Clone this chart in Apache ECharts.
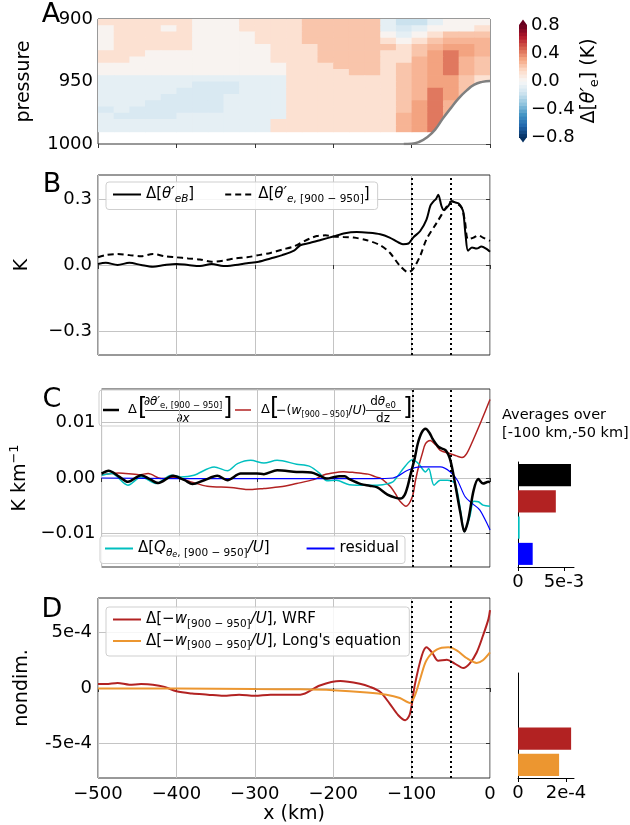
<!DOCTYPE html>
<html>
<head>
<meta charset="utf-8">
<script src="https://cdn.jsdelivr.net/npm/echarts@6.0.0/dist/echarts.min.js"></script>
<style>html,body{margin:0;padding:0;background:#fff;}#chart{width:630px;height:825px;}</style>
</head>
<body>
<div id="chart"></div>
<script>
// ================= DATA =================
// Panel A: cell centres (km / hPa) and field values (K)
const aX = [-490,-470,-450,-430,-410,-390,-370,-350,-330,-310,-290,-270,-250,-230,-210,-190,-170,-150,-130,-110,-90,-70,-50,-30,-10];
const aP = [902.5,907.5,912.5,917.5,922.5,927.5,932.5,937.5,942.5,947.5,952.5,957.5,962.5,967.5,972.5,977.5,982.5,987.5];
const aRows = [
 [.1,.1,.1,.1,.1,.1,.025,.025,.025,.1,.1,.1,.1,.2,.2,.2,.2,.2,-.06,-.2,-.2,-.06,.025,.025,.025],
 [.025,.1,.1,.1,.025,.1,.025,.025,.025,.1,.1,.1,.1,.2,.2,.2,.2,.2,-.06,-.13,-.06,.025,.025,.025,.1],
 [.025,.1,.1,.1,.1,.1,.025,.025,.025,.025,.1,.1,.1,.2,.2,.2,.2,.2,.025,-.06,.025,.1,.2,.2,.2],
 [.025,.1,.1,.1,.1,.1,.025,.025,.025,.025,.1,.1,.1,.2,.2,.2,.2,.2,.1,.025,.1,.2,.275,.275,.275],
 [.025,.1,.1,.1,.1,.1,.025,.025,.025,.025,.025,.1,.1,.1,.2,.2,.2,.2,.2,.1,.2,.275,.325,.325,.275],
 [.1,.1,.1,.025,.025,.025,.025,.025,.025,.025,.025,.1,.1,.1,.2,.2,.2,.2,.1,.1,.2,.325,.425,.325,.275],
 [.1,.1,.025,.025,.025,.025,.025,.025,.025,.025,.025,.1,.1,.1,.2,.2,.2,.2,.1,.1,.275,.325,.425,.275,.2],
 [.025,.025,.025,.025,.025,.025,.025,.025,.025,.025,.025,.025,.1,.1,.1,.2,.2,.2,.1,.2,.275,.325,.425,.275,.2],
 [.025,.025,.025,.025,.025,.025,.025,.025,.025,.025,.025,.025,.1,.1,.1,.1,.2,.2,.1,.2,.275,.325,.425,.275,.2],
 [-.06,-.06,-.06,-.06,-.06,-.06,-.06,-.06,-.06,-.06,-.06,-.06,.1,.1,.1,.1,.1,.1,.1,.2,.275,.325,.325,.2,.1],
 [-.06,-.06,-.06,-.06,-.06,-.06,-.13,-.13,-.13,-.06,-.06,-.06,.1,.1,.1,.1,.1,.1,.1,.2,.275,.325,.325,.2,.1],
 [-.06,-.06,-.06,-.06,-.06,-.13,-.13,-.13,-.13,-.06,-.06,-.06,.1,.1,.1,.1,.1,.1,.1,.2,.275,.425,.325,.2,.1],
 [-.06,-.06,-.06,-.06,-.13,-.13,-.13,-.13,-.06,-.06,-.06,-.06,.1,.1,.1,.1,.1,.1,.1,.2,.275,.425,.325,.2,.1],
 [-.06,-.06,-.06,-.13,-.13,-.13,-.13,-.13,-.06,-.06,-.06,-.06,.1,.1,.1,.1,.1,.1,.1,.2,.325,.425,.275,.2,.1],
 [-.13,-.06,-.13,-.13,-.13,-.13,-.13,-.13,-.06,-.06,-.06,-.06,.1,.1,.1,.1,.1,.1,.1,.2,.325,.425,.275,.2,.1],
 [-.06,-.13,-.13,-.13,-.13,-.06,-.06,-.06,-.06,-.06,-.06,-.06,.1,.1,.1,.1,.1,.1,.1,.275,.325,.425,.275,.2,.1],
 [-.06,-.06,-.06,-.06,-.06,-.06,-.06,-.06,-.06,-.06,-.06,.1,.1,.1,.1,.1,.1,.1,.1,.275,.325,.425,.275,.2,.1],
 [-.06,-.06,-.06,-.06,-.06,-.06,-.06,-.06,-.06,-.06,-.06,.1,.1,.1,.1,.1,.1,.1,.1,.275,.325,.425,.275,.2,.1]
];
const topoX = [-110,-100,-90,-80,-70,-60,-50,-40,-30,-20,-10,0];
const topoP = [1000,999.8,998.2,994.5,988.5,979.5,971.3,963.5,957.3,952.5,950.3,949.6];
const cbarLevels = [-0.8,-0.75,-0.7,-0.65,-0.6,-0.55,-0.5,-0.45,-0.4,-0.35,-0.3,-0.25,-0.2,-0.15,-0.1,-0.05,0,
                    0.05,0.1,0.15,0.2,0.25,0.3,0.35,0.4,0.45,0.5,0.55,0.6,0.65,0.7,0.75,0.8];

// Panel B (K)
const bSolidX = [-500,-490,-475,-460,-445,-430,-415,-400,-385,-370,-355,-340,-325,-310,-295,-280,-265,-250,-242,-230,-215,-200,-185,-170,-155,-140,-128,-118,-111,-104,-98,-89,-81,-76,-72,-69,-66,-62,-59,-53,-49,-44,-40,-36,-34,-31,-28,-23,-17,-11,-4,0];
const bSolidY = [0.005,0.01,0.0,0.01,0.0,-0.008,0.0,0.005,0.0,-0.005,0.005,-0.005,0.0,0.008,0.015,0.03,0.045,0.065,0.09,0.10,0.115,0.13,0.145,0.15,0.147,0.14,0.125,0.105,0.095,0.098,0.125,0.155,0.207,0.27,0.29,0.30,0.32,0.27,0.25,0.27,0.29,0.285,0.28,0.26,0.24,0.13,0.065,0.08,0.075,0.084,0.072,0.06];
const bDashX = [-500,-490,-475,-460,-445,-430,-415,-400,-385,-370,-355,-340,-325,-310,-295,-280,-265,-250,-242,-230,-221,-210,-200,-187,-174,-157,-140,-128,-115,-104,-98,-89,-81,-68,-55,-49,-42,-36,-32,-28,-21,-15,-9,0];
const bDashY = [0.035,0.045,0.05,0.045,0.04,0.05,0.04,0.035,0.03,0.025,0.015,0.02,0.03,0.035,0.045,0.055,0.07,0.085,0.099,0.12,0.132,0.135,0.13,0.128,0.125,0.113,0.09,0.057,-0.003,-0.033,-0.018,0.042,0.117,0.192,0.267,0.29,0.28,0.26,0.2,0.117,0.125,0.135,0.125,0.11];

// Panel C (K km^-1, listed in units of 1e-3)
const cBlackX = [-500,-491,-478,-466,-449,-438,-427,-408,-393,-383,-368,-351,-338,-321,-300,-291,-274,-249,-230,-219,-210,-200,-194,-187,-181,-166,-155,-145,-132,-121,-115,-110,-106,-102,-97,-93,-88,-83,-78,-74,-66,-57,-51,-45,-38,-33,-28,-21,-15,-9,-2,0];
const cBlackY = [0.8,1.3,0.3,-0.7,0.5,-0.2,-0.9,0.4,-0.4,-1.1,-0.4,0.4,-0.4,0.8,0.8,0.7,1.4,1.1,1.0,0.4,-0.1,0.2,0.3,0.3,-0.2,-1.1,-1.4,-1.7,-3.0,-3.6,-3.7,-3.1,-1.5,0.8,3.5,6.2,8.2,8.9,8.2,7.1,5.6,5.0,3.2,-1.0,-6.4,-9.7,-7.6,-2.2,-0.2,-1.0,-0.7,-0.8];
const cRedX = [-500,-478,-452,-440,-423,-406,-385,-364,-334,-308,-291,-270,-249,-227,-215,-206,-189,-175,-164,-157,-147,-140,-134,-128,-121,-117,-108,-100,-96,-92,-87,-83,-77,-70,-64,-51,-43,-36,-30,-21,-11,0];
const cRedY = [0.6,0.9,0.6,0.8,-0.1,0.1,-0.7,-1.5,-1.7,-2.1,-1.9,-1.6,-1.0,-0.3,0.5,0.8,1.15,1.0,0.8,0.7,0.2,-0.1,-0.8,-1.6,-3.0,-4.0,-5.1,-3.4,-0.5,2.0,4.5,6.2,6.8,6.0,5.0,4.4,4.0,3.7,4.4,7.1,10.4,14.2];
const cCyanX = [-500,-487,-466,-449,-430,-410,-398,-381,-355,-338,-325,-308,-291,-274,-249,-232,-219,-210,-198,-181,-157,-138,-125,-119,-110,-100,-92,-83,-79,-72,-64,-55,-45,-38,-33,-26,-21,-15,-9,0];
const cCyanY = [0.5,0.8,-1.3,0.2,-1.0,0.5,0.2,0.5,2.0,1.3,2.6,3.2,2.7,3.2,2.5,2.1,0.8,-0.5,-0.4,-1.2,-1.3,-1.2,-0.7,0.3,2.0,3.3,2.6,1.1,1.7,-1.3,-0.4,-0.4,-1.0,-5.8,-9.7,-7.0,-4.2,-4.3,-4.9,-5.1];
const cBlueX = [-500,-400,-300,-200,-150,-125,-119,-106,-89,-64,-51,-42,-32,-23,-13,0];
const cBlueY = [0,-0.1,-0.1,-0.1,-0.1,0.0,0.3,1.4,2.0,2.0,1.1,-0.4,-3.4,-4.6,-5.8,-9.4];

// Panel D (nondim., listed in units of 1e-4)
const dWrfX = [-500,-490,-475,-460,-445,-430,-415,-400,-380,-360,-340,-320,-300,-280,-260,-242,-217,-191,-166,-153,-140,-128,-117,-108,-102,-96,-87,-81,-74,-66,-55,-45,-34,-26,-17,-9,-2,0];
const dWrfY = [0.35,0.35,0.45,0.3,0.35,0.3,0.1,-0.3,-0.5,-0.6,-0.7,-0.6,-0.7,-0.6,-0.6,-0.6,0.23,0.62,0.38,0.1,-0.36,-1.4,-2.45,-2.9,-2.3,0.24,2.9,3.66,3.2,2.46,2.55,2.2,1.8,2.2,3.2,4.7,6.2,7.0];
const dLongX = [-500,-400,-300,-242,-200,-157,-132,-115,-102,-96,-89,-81,-68,-53,-42,-30,-17,-9,0];
const dLongY = [-0.05,-0.05,-0.1,-0.12,-0.2,-0.4,-0.6,-0.9,-1.35,-0.7,0.83,2.5,3.45,3.66,3.36,2.7,2.26,2.5,3.2];

// Averages over [-100 km, -50 km]
const barCVals = [5.77e-3, 4.12e-3, 0.18e-3, 1.6e-3];
const barDVals = [null, null, 2.21e-4, 1.71e-4];
const refLines = [-100, -50];

// Tick labels
const xTicks = [-500,-400,-300,-200,-100,0];
const bTicks = [-0.3, 0, 0.3];
const cTicks = [-0.01, 0, 0.01];
const dTicks = [-5e-4, 0, 5e-4];

// ================= STYLE / BUILD =================
const F = 'DejaVu Sans';
const MINUS = '\u2212';
const FRAME = '#333';
const GRIDC = '#c4c4c4';
const RED = '#b22222', CYAN = '#00bfbf', BLUE = '#0000ff', ORANGE = '#ec9630';

function rdbu(t){
  const A=[[5,48,97],[33,102,172],[67,147,195],[146,197,222],[209,229,240],[247,247,247],[253,219,199],[244,165,130],[214,96,77],[178,24,43],[103,0,31]];
  const s=Math.max(0,Math.min(1,t))*10; const i=Math.min(9,Math.floor(s)); const f=s-i;
  const c=A[i].map((v,k)=>Math.round(v+(A[i+1][k]-v)*f));
  return 'rgb('+c.join(',')+')';
}
const nB = cbarLevels.length-1;
const pieces = [{lt: cbarLevels[0], color: rdbu(0)}];
for (let k=0;k<nB;k++) pieces.push({gte: cbarLevels[k]-1e-9, lt: cbarLevels[k+1]-1e-9, color: rdbu((k+0.5)/nB)});
pieces.push({gte: cbarLevels[nB]-1e-9, color: rdbu(1)});

const cells = [];
aRows.forEach((row,i)=>row.forEach((v,j)=>cells.push([aX[j], aP[i], v])));
const halfW = (aX[1]-aX[0])/2, halfH = (aP[1]-aP[0])/2;

const cbarData = [];
for (let k=0;k<nB;k++) cbarData.push([cbarLevels[k], cbarLevels[k+1], (cbarLevels[k]+cbarLevels[k+1])/2, 0]);
const lo = cbarLevels[0], hi = cbarLevels[nB];
cbarData.push([lo, lo-0.08, lo-0.04, -1]);
cbarData.push([hi, hi+0.08, hi+0.04, 1]);

const zip = (xs, ys, s) => xs.map((x,i)=>[x, ys[i]*(s||1)]);

const tickFont = {fontFamily:F, fontSize:18, color:'#000'};
function xAxisPanel(gi, showLabels){
  return {gridIndex:gi, type:'value', min:-500, max:0, interval:100,
    axisLine:{show:false}, axisTick:{show:true, length:4, lineStyle:{color:FRAME}},
    axisLabel:{show:showLabels, ...tickFont, margin:7, formatter:v=>String(v).replace('-',MINUS)},
    splitLine:{show: gi!==0, lineStyle:{color:GRIDC, width:1}}};
}
function yAxisPanel(gi, lim, ticks, fmt, name, gap){
  return {gridIndex:gi, type:'value', min:-lim, max:lim,
    axisLine:{show:false},
    axisTick:{show:true, length:4, customValues:ticks, lineStyle:{color:FRAME}},
    axisLabel:{...tickFont, margin:6, customValues:ticks, formatter:fmt},
    splitLine:{show:true, lineStyle:{color:GRIDC, width:1}},
    name:name, nameLocation:'middle', nameGap:gap, nameRotate:90,
    nameTextStyle:{fontFamily:F, fontSize:19, color:'#000', rich:{
      n:{fontFamily:F, fontSize:19, color:'#000', lineHeight:24},
      sup:{fontFamily:F, fontSize:13, color:'#000', lineHeight:14, verticalAlign:'top'}}}};
}
const dotted = {silent:true, symbol:['none','none'], label:{show:false}, animation:false,
  lineStyle:{color:'#000', type:[2,3], width:2}, emphasis:{disabled:true},
  data: refLines.map(v=>({xAxis:v}))};
function line(name, xi, xs, ys, scale, color, width, extra){
  return Object.assign({name, type:'line', xAxisIndex:xi, yAxisIndex:xi, data:zip(xs,ys,scale),
    showSymbol:false, symbol:'none', smooth:0.3, animation:false, z:3,
    lineStyle:{color, width}, itemStyle:{color}, emphasis:{disabled:true}}, extra||{});
}

const rich = {
  m:{fontFamily:F, fontSize:15, color:'#000', lineHeight:20},
  i:{fontFamily:F, fontSize:15, color:'#000', fontStyle:'italic', lineHeight:20},
  s:{fontFamily:F, fontSize:10.5, color:'#000', lineHeight:11, verticalAlign:'bottom'},
  si:{fontFamily:F, fontSize:10.5, color:'#000', fontStyle:'italic', lineHeight:11, verticalAlign:'bottom'},
  ss:{fontFamily:F, fontSize:8, color:'#000', fontStyle:'italic', lineHeight:6, verticalAlign:'bottom'}
};
const legendText = {
  bSolid:'{m|Δ[}{i|θ′}{si|eB}{m|]}',
  bDash:'{m|Δ[}{i|θ′}{si|e}{s|, [900 − 950]}{m|]}',
  cQ:'{m|Δ[}{i|Q}{si|θ}{ss|e}{s|, [900 − 950]}{i|/U}{m|]}',
  cRes:'{m|residual}',
  dWrf:'{m|Δ[−}{i|w}{s|[900 − 950]}{i|/U}{m|], WRF}',
  dLong:'{m|Δ[−}{i|w}{s|[900 − 950]}{i|/U}{m|], Long\'s equation}'
};
const legendBase = {itemWidth:28, itemHeight:12, borderColor:'#cfcfcf', borderWidth:1, borderRadius:3,
  backgroundColor:'rgba(255,255,255,0.85)', textStyle:{fontFamily:F, fontSize:15, color:'#000', rich},
  itemStyle:{opacity:0, borderWidth:0},
  formatter:n=>legendText[n], selectedMode:false};

const subRich = (m, s) => ({
  m:{fontFamily:F, fontSize:m, fill:'#000', lineHeight:m+4},
  i:{fontFamily:F, fontSize:m, fontStyle:'italic', fill:'#000', lineHeight:m+4},
  s:{fontFamily:F, fontSize:s, fill:'#000', lineHeight:s, verticalAlign:'bottom'},
  si:{fontFamily:F, fontSize:s, fontStyle:'italic', fill:'#000', lineHeight:s, verticalAlign:'bottom'}});

const option = {
  animation:false,
  textStyle:{fontFamily:F},
  grid:[
    {left:98, top:19, width:392, height:125, show:true, borderColor:FRAME, borderWidth:1, backgroundColor:'transparent'},
    {left:519, top:25, width:8, height:112},
    {left:98, top:175, width:392, height:180, show:true, borderColor:FRAME, borderWidth:1, backgroundColor:'transparent'},
    {left:98, top:389, width:392, height:178, show:true, borderColor:FRAME, borderWidth:1, backgroundColor:'transparent'},
    {left:518, top:462, width:56, height:105},
    {left:98, top:598, width:392, height:182, show:true, borderColor:FRAME, borderWidth:1, backgroundColor:'transparent'},
    {left:518, top:673, width:56, height:105}
  ],
  xAxis:[
    xAxisPanel(0,false),
    {gridIndex:1, type:'value', min:0, max:1, show:false},
    xAxisPanel(2,false),
    xAxisPanel(3,false),
    {gridIndex:4, type:'value', min:0, max:0.0061, axisLine:{show:true, lineStyle:{color:'#000'}},
      axisTick:{show:true, length:4, customValues:[0,0.005], lineStyle:{color:'#000'}},
      axisLabel:{...tickFont, margin:6, customValues:[0,0.005], formatter:v=>v===0?'0':'5e-3'}, splitLine:{show:false}},
    Object.assign(xAxisPanel(5,true), {name:'x (km)', nameLocation:'middle', nameGap:27, nameTextStyle:{fontFamily:F, fontSize:19, color:'#000'}}),
    {gridIndex:6, type:'value', min:0, max:0.000233, axisLine:{show:true, lineStyle:{color:'#000'}},
      axisTick:{show:true, length:4, customValues:[0,0.0002], lineStyle:{color:'#000'}},
      axisLabel:{...tickFont, margin:6, customValues:[0,0.0002], formatter:v=>v===0?'0':'2e-4'}, splitLine:{show:false}}
  ],
  yAxis:[
    {gridIndex:0, type:'value', min:900, max:1000, interval:50, inverse:true,
      axisLine:{show:false}, axisTick:{show:true, length:4, lineStyle:{color:FRAME}},
      axisLabel:{...tickFont, margin:5, formatter:v=>String(v)}, splitLine:{show:false},
      name:'pressure', nameLocation:'middle', nameGap:64, nameRotate:90, nameTextStyle:{fontFamily:F, fontSize:19, color:'#000'}},
    {gridIndex:1, type:'value', min:-0.8, max:0.8, interval:0.4, position:'right',
      axisLine:{show:false}, axisTick:{show:true, length:4, lineStyle:{color:'#000'}},
      axisLabel:{...tickFont, margin:4, formatter:v=>v.toFixed(1).replace('-',MINUS)}, splitLine:{show:false},
      name:'{m|Δ[}{i|θ′}{s|e}{m|] (K)}', nameLocation:'middle', nameGap:50, nameRotate:90,
      nameTextStyle:{fontFamily:F, fontSize:19, color:'#000', rich:{
        m:{fontFamily:F, fontSize:19, color:'#000', lineHeight:24},
        i:{fontFamily:F, fontSize:19, color:'#000', fontStyle:'italic', lineHeight:24},
        s:{fontFamily:F, fontSize:13, color:'#000', lineHeight:13, verticalAlign:'bottom'}}}},
    yAxisPanel(2, 0.41, bTicks, v=>Math.abs(v)<1e-9?'0.0':v.toFixed(1).replace('-',MINUS), '{n|K}', 64),
    yAxisPanel(3, 0.0161, cTicks, v=>Math.abs(v)<1e-9?'0.00':v.toFixed(2).replace('-',MINUS), '{n|K km}{sup|−1}', 64),
    {gridIndex:4, type:'category', data:['a','b','c','d'], inverse:true,
      axisLine:{show:true, lineStyle:{color:'#000'}}, axisTick:{show:false}, axisLabel:{show:false}, splitLine:{show:false}},
    yAxisPanel(5, 0.00081, dTicks, v=>Math.abs(v)<1e-12?'0':(v<0?'-5e-4':'5e-4'), '{n|nondim.}', 64),
    {gridIndex:6, type:'category', data:['a','b','c','d'], inverse:true,
      axisLine:{show:true, lineStyle:{color:'#000'}}, axisTick:{show:false}, axisLabel:{show:false}, splitLine:{show:false}}
  ],
  visualMap:[{type:'piecewise', show:false, seriesIndex:[0,1], dimension:2, pieces}],
  legend:[
    Object.assign({}, legendBase, {left:106, top:182, orient:'horizontal', itemGap:30, padding:[5,8,5,6], data:['bSolid','bDash']}),
    Object.assign({}, legendBase, {left:100, top:536, orient:'horizontal', itemGap:36, padding:[5,6,5,4], data:['cQ','cRes']}),
    Object.assign({}, legendBase, {left:106, top:607, orient:'vertical', itemGap:4, padding:[5,8,5,6], data:['dWrf','dLong']})
  ],
  series:[
    {type:'custom', xAxisIndex:0, yAxisIndex:0, data:cells, clip:true, z:1, silent:true,
      renderItem:(params, api)=>{
        const x=api.value(0), p=api.value(1);
        const a=api.coord([x-halfW, p-halfH]), b=api.coord([x+halfW, p+halfH]);
        return {type:'rect', shape:{x:Math.min(a[0],b[0]), y:Math.min(a[1],b[1]), width:Math.abs(b[0]-a[0])+0.7, height:Math.abs(b[1]-a[1])+0.7}, style:{fill:api.visual('color')}};
      }},
    {type:'custom', xAxisIndex:1, yAxisIndex:1, data:cbarData, silent:true, z:2,
      renderItem:(params, api)=>{
        const l=api.value(0), h=api.value(1), kind=api.value(3), fill=api.visual('color');
        if (kind===0){ const a=api.coord([0,h]), b=api.coord([1,l]);
          return {type:'rect', shape:{x:a[0], y:a[1], width:b[0]-a[0], height:b[1]-a[1]+0.6}, style:{fill}}; }
        const a=api.coord([0,l]), b=api.coord([1,l]), t=api.coord([0.5,h]);
        return {type:'polygon', shape:{points:[a,b,t]}, style:{fill}};
      }},
    {type:'line', xAxisIndex:0, yAxisIndex:0, data:zip(topoX, topoP), smooth:0.5, showSymbol:false, symbol:'none', z:5,
      lineStyle:{color:'#808080', width:2.5}, areaStyle:{color:'#fff', opacity:1, origin:'end'}, silent:true},
    line('bSolid', 2, bSolidX, bSolidY, 1, '#000', 2, {markLine:dotted}),
    line('bDash', 2, bDashX, bDashY, 1, '#000', 2, {lineStyle:{color:'#000', width:2, type:[6,4]}}),
    line('cBlack', 3, cBlackX, cBlackY, 1e-3, '#000', 2.5, {markLine:dotted, z:4}),
    line('cRed', 3, cRedX, cRedY, 1e-3, RED, 1.5),
    line('cQ', 3, cCyanX, cCyanY, 1e-3, CYAN, 1.5),
    line('cRes', 3, cBlueX, cBlueY, 1e-3, BLUE, 1.2),
    {type:'bar', xAxisIndex:4, yAxisIndex:4, barWidth:'84%', silent:true,
      data: barCVals.map((v,i)=>({value:v, itemStyle:{color:['#000',RED,CYAN,BLUE][i]}}))},
    line('dWrf', 5, dWrfX, dWrfY, 1e-4, RED, 2, {markLine:dotted}),
    line('dLong', 5, dLongX, dLongY, 1e-4, ORANGE, 2),
    {type:'bar', xAxisIndex:6, yAxisIndex:6, barWidth:'84%', silent:true,
      data: barDVals.map((v,i)=>({value:v==null?'-':v, itemStyle:{color:['#000','#000',RED,ORANGE][i]}}))}
  ],
  graphic:[
    {type:'text', x:51, y:15, style:{text:'A', font:'27px "DejaVu Sans"', fill:'#000', align:'center', verticalAlign:'middle'}},
    {type:'text', x:52, y:185, style:{text:'B', font:'27px "DejaVu Sans"', fill:'#000', align:'center', verticalAlign:'middle'}},
    {type:'text', x:52, y:400, style:{text:'C', font:'27px "DejaVu Sans"', fill:'#000', align:'center', verticalAlign:'middle'}},
    {type:'text', x:52, y:610, style:{text:'D', font:'27px "DejaVu Sans"', fill:'#000', align:'center', verticalAlign:'middle'}},
    {type:'text', x:502, y:424, style:{text:'Averages over\n[-100 km,-50 km]', font:'14.5px "DejaVu Sans"', lineHeight:18, fill:'#000', align:'left', verticalAlign:'middle'}},
    {type:'group', z:100, children:[
      {type:'rect', shape:{x:99, y:390, width:314, height:36, r:3}, style:{fill:'rgba(255,255,255,0.85)', stroke:'#cfcfcf', lineWidth:1}},
      {type:'line', shape:{x1:103, y1:410, x2:119, y2:410}, style:{stroke:'#000', lineWidth:2.5}},
      {type:'text', x:128, y:410, style:{text:'Δ', font:'13px "DejaVu Sans"', fill:'#000', verticalAlign:'middle'}},
      {type:'text', x:138, y:409, style:{text:'[', font:'24px "DejaVu Sans"', fill:'#000', verticalAlign:'middle'}},
      {type:'text', x:183, y:402, style:{text:'{i|∂θ′}{s|e, [900 − 950]}', align:'center', verticalAlign:'middle', rich:subRich(12,8.5)}},
      {type:'line', shape:{x1:145, y1:410.5, x2:222, y2:410.5}, style:{stroke:'#000', lineWidth:0.8}},
      {type:'text', x:183, y:418.5, style:{text:'∂x', font:'italic 12px "DejaVu Sans"', fill:'#000', align:'center', verticalAlign:'middle'}},
      {type:'text', x:223, y:409, style:{text:']', font:'24px "DejaVu Sans"', fill:'#000', verticalAlign:'middle'}},
      {type:'line', shape:{x1:235, y1:410, x2:251, y2:410}, style:{stroke:RED, lineWidth:1.5}},
      {type:'text', x:261, y:410, style:{text:'Δ', font:'13px "DejaVu Sans"', fill:'#000', verticalAlign:'middle'}},
      {type:'text', x:270, y:409, style:{text:'[', font:'24px "DejaVu Sans"', fill:'#000', verticalAlign:'middle'}},
      {type:'text', x:276, y:411, style:{text:'{m|−(}{i|w}{s|[900\u2009−\u2009950]}{m|/}{i|U}{m|)}', verticalAlign:'middle', rich:subRich(12.5,8)}},
      {type:'text', x:383, y:402, style:{text:'{m|d}{i|θ}{s|e0}', align:'center', verticalAlign:'middle', rich:subRich(12,8.5)}},
      {type:'line', shape:{x1:366, y1:410.5, x2:401, y2:410.5}, style:{stroke:'#000', lineWidth:0.8}},
      {type:'text', x:383, y:418.5, style:{text:'dz', font:'12px "DejaVu Sans"', fill:'#000', align:'center', verticalAlign:'middle'}},
      {type:'text', x:403, y:409, style:{text:']', font:'24px "DejaVu Sans"', fill:'#000', verticalAlign:'middle'}}
    ]}
  ]
};
const chart = echarts.init(document.getElementById('chart'), null, {renderer:'canvas'});
chart.setOption(option);
</script>
</body>
</html>
